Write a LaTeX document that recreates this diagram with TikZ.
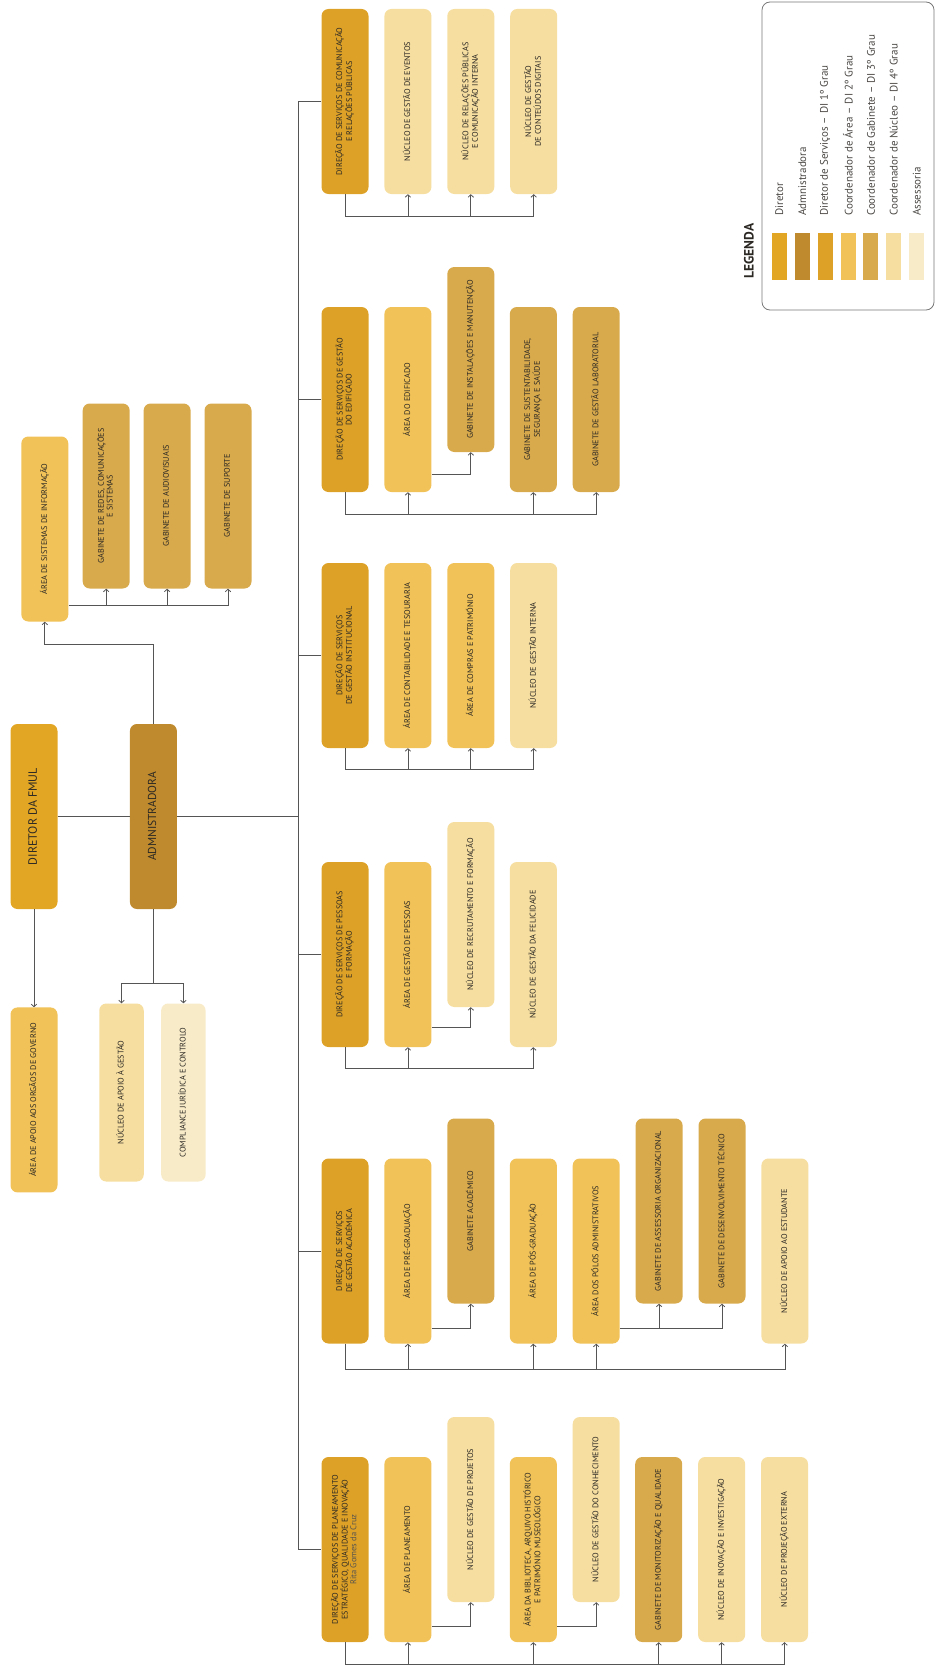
\documentclass[tikz,border=0pt]{standalone}
\usepackage{graphicx}
\usepackage{fontspec}
\setmainfont{PT Sans}
\usetikzlibrary{positioning, arrows.meta}

\definecolor{cdir}{HTML}{E3A624}
\definecolor{cadm}{HTML}{BF8A2D}
\definecolor{cserv}{HTML}{DDA127}
\definecolor{carea}{HTML}{F1C257}
\definecolor{cgab}{HTML}{D9AA4C}
\definecolor{cnuc}{HTML}{F6DEA0}
\definecolor{cass}{HTML}{F8EBC8}
\definecolor{ctxt}{HTML}{2B2824}
\definecolor{cline}{HTML}{555555}

\newcommand{\boxfont}{\fontsize{8.2}{8.8}\selectfont}
\newcommand{\vt}[1]{\rotatebox{90}{\begin{tabular}{@{}c@{}}#1\end{tabular}}}
\newcommand{\who}[1]{{\color{ctxt!80}\fontsize{8.5}{9.5}\selectfont #1}}

\begin{document}
\begin{tikzpicture}[x=1pt, y=-1pt, node distance=15.5pt,
    box/.style={rectangle, rounded corners=7pt, minimum width=47pt, minimum height=185pt, inner sep=0pt, text=ctxt, font=\boxfont},
    diretor/.style={box, fill=cdir, font=\fontsize{12}{14}\selectfont},
    admin/.style={box, fill=cadm, font=\fontsize{11.5}{13}\selectfont},
    servico/.style={box, fill=cserv},
    area/.style={box, fill=carea},
    gab/.style={box, fill=cgab},
    nucleo/.style={box, fill=cnuc},
    assess/.style={box, fill=cass},
    up/.style={yshift=40pt},
    swatch/.style={rectangle, minimum width=15pt, minimum height=47pt, inner sep=0pt},
    legtext/.style={inner sep=0pt, text=ctxt!85, font=\fontsize{11}{13}\selectfont},
    conn/.style={draw=cline, line width=0.8pt},
    line/.style={draw=cline, line width=0.8pt, -{Straight Barb[length=2.5pt,width=5.5pt]}}]
    \useasboundingbox (0,0) rectangle (937,1667);

    % direcao e administracao
    \node [diretor] (dir) at (34,816.5) {\vt{DIRETOR DA FMUL}};
    \node [admin, right=72pt of dir] (adm) {\vt{ADMNISTRADORA}};
    \node [area, below=98pt of dir] (aaog) {\vt{ÁREA DE APOIO AOS ORGÃOS DE GOVERNO}};
    \node [nucleo, minimum width=44.5pt, minimum height=178pt] (nag) at (121.5,1092.5) {\vt{NÚCLEO DE APOIO À GESTÃO}};
    \node [assess, minimum width=44.5pt, minimum height=178pt, right=17pt of nag] (comp) {\vt{COMPLIANCE JURÍDICA E CONTROLO}};
    \node [area] (asi) at (44.8,529) {\vt{ÁREA DE SISTEMAS DE INFORMAÇÃO}};
    \node [gab, right=14pt of asi, yshift=33pt] (gred) {\vt{GABINETE DE REDES, COMUNICAÇÕES\\E SISTEMAS}};
    \node [gab, right=13.5pt of gred] (gaud) {\vt{GABINETE DE AUDIOVISUAIS}};
    \node [gab, right=13.5pt of gaud] (gsup) {\vt{GABINETE DE SUPORTE}};

    % comunicacao
    \node [servico] (dcom) at (345,101.5) {\vt{DIREÇÃO DE SERVIÇOS DE COMUNICAÇÃO\\E RELAÇÕES PÚBLICAS}};
    \node [nucleo, right=of dcom] (nev) {\vt{NÚCLEO DE GESTÃO DE EVENTOS}};
    \node [nucleo, right=of nev] (nrp) {\vt{NÚCLEO DE RELAÇÕES PÚBLICAS\\E COMUNICAÇÃO INTERNA}};
    \node [nucleo, right=of nrp] (ncd) {\vt{NÚCLEO DE GESTÃO\\DE CONTEÚDOS DIGITAIS}};

    % edificado
    \node [servico] (dedif) at (345,399.5) {\vt{DIREÇÃO DE SERVIÇOS DE GESTÃO\\DO EDIFICADO}};
    \node [area, right=of dedif] (aedif) {\vt{ÁREA DO EDIFICADO}};
    \node [gab, right=of aedif, up] (ginst) {\vt{GABINETE DE INSTALAÇÕES E MANUTENÇÃO}};
    \node [gab, right=78pt of aedif] (gsust) {\vt{GABINETE DE SUSTENTABILIDADE,\\SEGURANÇA E SAÚDE}};
    \node [gab, right=of gsust] (glab) {\vt{GABINETE DE GESTÃO LABORATORIAL}};

    % gestao institucional
    \node [servico] (dinst) at (345,655.5) {\vt{DIREÇÃO DE SERVIÇOS\\DE GESTÃO INSTITUCIONAL}};
    \node [area, right=of dinst] (acont) {\vt{ÁREA DE CONTABILIDADE E TESOURARIA}};
    \node [area, right=of acont] (acomp) {\vt{ÁREA DE COMPRAS E PATRIMÓNIO}};
    \node [nucleo, right=of acomp] (ngi) {\vt{NÚCLEO DE GESTÃO INTERNA}};

    % pessoas
    \node [servico] (dpess) at (345,954.5) {\vt{DIREÇÃO DE SERVIÇOS DE PESSOAS\\E FORMAÇÃO}};
    \node [area, right=of dpess] (apess) {\vt{ÁREA DE GESTÃO DE PESSOAS}};
    \node [nucleo, right=of apess, up] (nrec) {\vt{NÚCLEO DE RECRUTAMENTO E FORMAÇÃO}};
    \node [nucleo, right=78pt of apess] (nfel) {\vt{NÚCLEO DE GESTÃO DA FELICIDADE}};

    % gestao academica
    \node [servico] (dacad) at (345,1251) {\vt{DIREÇÃO DE SERVIÇOS\\DE GESTÃO ACADÉMICA}};
    \node [area, right=of dacad] (apre) {\vt{ÁREA DE PRÉ-GRADUAÇÃO}};
    \node [gab, right=of apre, up] (gacad) {\vt{GABINETE ACADÉMICO}};
    \node [area, right=78pt of apre] (apos) {\vt{ÁREA DE PÓS-GRADUAÇÃO}};
    \node [area, right=of apos] (apol) {\vt{ÁREA DOS PÓLOS ADMINISTRATIVOS}};
    \node [gab, right=of apol, up] (gassess) {\vt{GABINETE DE ASSESSORIA ORGANIZACIONAL}};
    \node [gab, right=of gassess] (gdes) {\vt{GABINETE DE DESENVOLVIMENTO TÉCNICO}};
    \node [nucleo, right=of gdes, yshift=-40pt] (nest) {\vt{NÚCLEO DE APOIO AO ESTUDANTE}};

    % planeamento
    \node [servico] (dplan) at (345,1549.5) {\vt{DIREÇÃO DE SERVIÇOS DE PLANEAMENTO\\ESTRATÉGICO, QUALIDADE E INOVAÇÃO\\\who{Rita Gomes da Cruz}}};
    \node [area, right=of dplan] (aplan) {\vt{ÁREA DE PLANEAMENTO}};
    \node [nucleo, right=of aplan, up] (nproj) {\vt{NÚCLEO DE GESTÃO DE PROJETOS}};
    \node [area, right=78pt of aplan] (abib) {\vt{ÁREA DA BIBLIOTECA, ARQUIVO HISTÓRICO\\E PATRIMÓNIO MUSEOLÓGICO}};
    \node [nucleo, right=of abib, up] (ncon) {\vt{NÚCLEO DE GESTÃO DO CONHECIMENTO}};
    \node [gab, right=78pt of abib] (gmon) {\vt{GABINETE DE MONITORIZAÇÃO E QUALIDADE}};
    \node [nucleo, right=of gmon] (ninov) {\vt{NÚCLEO DE INOVAÇÃO E INVESTIGAÇÃO}};
    \node [nucleo, right=of ninov] (nproje) {\vt{NÚCLEO DE PROJEÇÃO EXTERNA}};

    % legenda
    \node [draw=cline!80, line width=0.8pt, rounded corners=8pt, minimum width=172pt, minimum height=308pt] (leg) at (848,156) {};
    \node [inner sep=0pt, text=ctxt, font=\bfseries\fontsize{13.5}{15}\selectfont] (legt) at (749,251) {\rotatebox{90}{LEGENDA}};
    \foreach \c/\t [count=\i from 0] in {cdir/Diretor, cadm/Admnistradora, cserv/Diretor de Serviços – DI 1º Grau,
        carea/Coordenador de Área – DI 2º Grau, cgab/Coordenador de Gabinete – DI 3º Grau,
        cnuc/Coordenador de Núcleo – DI 4º Grau, cass/Assessoria} {
        \node [swatch, fill=\c] (sw\i) at (779.3+22.9*\i,256.5) {};
        \node [legtext, anchor=south] (lt\i) at (779.3+22.9*\i,216) {\rotatebox{90}{\t}};
    }

    % ligacoes
    \coordinate (spine) at (298,816.5);
    \path [conn] (dir.east) -- (adm.west);
    \path [conn] (adm.east) -- (spine);
    \path [conn] (dcom.west) -- (dcom.west -| spine) -- (dplan.west -| spine) -- (dplan.west);
    \foreach \d in {dedif, dinst, dpess, dacad}
        \path [conn] (\d.west) -- (\d.west -| spine);

    \path [line] (dir.south) -- (aaog.north);
    \coordinate (ka) at ([yshift=-74pt]adm.south);
    \path [conn] (adm.south) -- (ka);
    \path [line] (ka) -| (nag.north);
    \path [line] (ka) -| (comp.north);
    \coordinate (ku) at ([yshift=79pt]adm.north);
    \path [line] (adm.north) -- (ku) -| (asi.south);
    \coordinate (ks) at ([yshift=16pt]asi.south east);
    \path [line] (ks) -| (gsup.south);
    \path [line] (ks -| gred.south) -- (gred.south);
    \path [line] (ks -| gaud.south) -- (gaud.south);

    \coordinate (b1) at ([yshift=-22pt]dcom.south);
    \path [conn] (dcom.south) -- (b1);
    \path [line] (b1) -| (ncd.south);
    \path [line] (b1 -| nev.south) -- (nev.south);
    \path [line] (b1 -| nrp.south) -- (nrp.south);

    \coordinate (b2) at ([yshift=-22pt]dedif.south);
    \path [conn] (dedif.south) -- (b2);
    \path [line] (b2) -| (glab.south);
    \path [line] (b2 -| aedif.south) -- (aedif.south);
    \path [line] (b2 -| gsust.south) -- (gsust.south);
    \path [line] ([yshift=18pt]aedif.south east) -| (ginst.south);

    \coordinate (b3) at ([yshift=-21pt]dinst.south);
    \path [conn] (dinst.south) -- (b3);
    \path [line] (b3) -| (ngi.south);
    \path [line] (b3 -| acont.south) -- (acont.south);
    \path [line] (b3 -| acomp.south) -- (acomp.south);

    \coordinate (b4) at ([yshift=-21pt]dpess.south);
    \path [conn] (dpess.south) -- (b4);
    \path [line] (b4) -| (nfel.south);
    \path [line] (b4 -| apess.south) -- (apess.south);
    \path [line] ([yshift=20pt]apess.south east) -| (nrec.south);

    \coordinate (b5) at ([yshift=-26pt]dacad.south);
    \path [conn] (dacad.south) -- (b5);
    \path [line] (b5) -| (nest.south);
    \path [line] (b5 -| apre.south) -- (apre.south);
    \path [line] (b5 -| apos.south) -- (apos.south);
    \path [line] (b5 -| apol.south) -- (apol.south);
    \path [line] ([yshift=15pt]apre.south east) -| (gacad.south);
    \coordinate (k5) at ([yshift=15pt]apol.south east);
    \path [line] (k5) -| (gdes.south);
    \path [line] (k5 -| gassess.south) -- (gassess.south);

    \coordinate (b6) at ([yshift=-22pt]dplan.south);
    \path [conn] (dplan.south) -- (b6);
    \path [line] (b6) -| (nproje.south);
    \path [line] (b6 -| aplan.south) -- (aplan.south);
    \path [line] (b6 -| abib.south) -- (abib.south);
    \path [line] (b6 -| gmon.south) -- (gmon.south);
    \path [line] (b6 -| ninov.south) -- (ninov.south);
    \path [line] ([yshift=16pt]aplan.south east) -| (nproj.south);
    \path [line] ([yshift=16pt]abib.south east) -| (ncon.south);
\end{tikzpicture}
\end{document}
